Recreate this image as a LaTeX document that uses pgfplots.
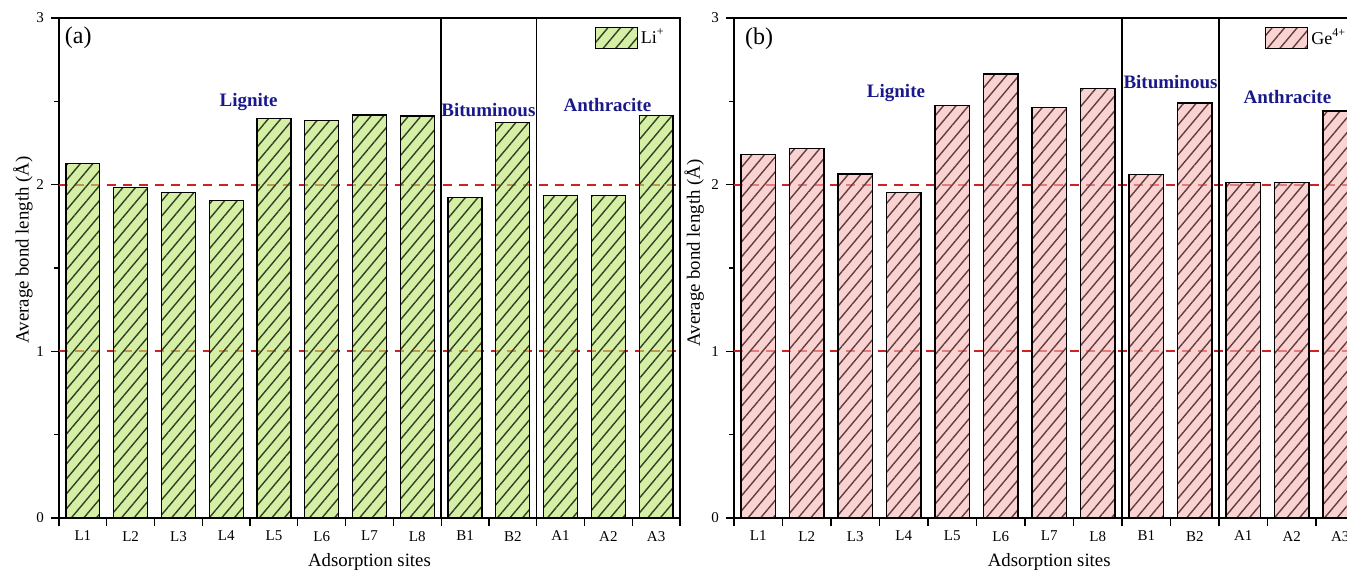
\documentclass[border=0pt]{standalone}
\usepackage{fontspec}
\setmainfont{Liberation Serif}
\usepackage{pgfplots}
\pgfplotsset{compat=1.18}
\usetikzlibrary{patterns.meta}

\definecolor{gfill}{RGB}{185,228,105}
\definecolor{ghatch}{RGB}{50,62,38}
\definecolor{pfill}{RGB}{247,180,180}
\definecolor{phatch}{RGB}{95,62,62}
\definecolor{dred}{RGB}{205,35,35}
\definecolor{navy}{RGB}{25,25,140}

\pgfplotsset{
  panel/.style={
    scale only axis, height=250pt,
    ymin=0, ymax=3, xmin=-0.5, xmax=12.5,
    ytick={0,1,2,3}, minor ytick={0.5,1.5,2.5},
    xtick={-0.5,0.5,...,12.5}, xticklabels={},
    extra x ticks={0,1,2,3,4,5,6,7,8,9,10,11,12},
    extra x tick labels={L1,L2,L3,L4,L5,L6,L7,L8,B1,B2,A1,A2,A3},
    extra x tick style={major tick length=0pt, xticklabel style={yshift=-3pt}},
    tick align=outside, xtick pos=bottom, ytick pos=left,
    major tick length=4pt, minor tick length=2.5pt,
    tick style={black, line width=0.6pt},
    axis line style={line width=0.7pt},
    tick label style={font=\fontsize{7.5}{8}\selectfont},
    /pgf/number format/assume math mode=true,
    label style={font=\fontsize{9.4}{11}\selectfont},
    xlabel={Adsorption sites},
    ylabel={Average bond length (Å)},
    xlabel style={at={(axis description cs:0.5,-0.088)}, anchor=center},
    legend style={draw=none, fill=none, inner sep=0pt, anchor=north west,
      font=\fontsize{9}{10}\selectfont, nodes={inner sep=1.5pt}},
    legend cell align=left,
  },
  mylegend/.style={legend image code/.code={
    \draw[##1, fill opacity=0.6] (0pt,-5.25pt) rectangle (21pt,5.25pt);}},
  ref/.style={dred, dashed, line width=1pt, dash pattern=on 4.5pt off 3.5pt, forget plot, sharp plot},
}

\begin{document}
\begin{tikzpicture}
\useasboundingbox (0,0) rectangle (673.5pt,286.5pt);
\clip (0,0) rectangle (673.5pt,286.5pt);

% ---------- (a) Li+ ----------
\begin{axis}[panel, at={(29.5pt,27.5pt)}, anchor=south west, width=310.5pt,
  ylabel style={at={(axis description cs:-0.058,0.536)}, anchor=center},
  legend style={at={(axis description cs:0.862,0.985)}}]
\addplot[ref] coordinates {(-0.5,2) (12.5,2)};
\addplot[ref] coordinates {(-0.5,1) (12.5,1)};
\addplot[ybar, bar width=0.71, draw=black, line width=0.6pt, fill=gfill, fill opacity=0.6,
  postaction={pattern={Lines[angle=50,distance=4.8pt,line width=0.7pt]}, pattern color=ghatch, fill opacity=1},
  mylegend]
coordinates {(0,2.128) (1,1.982) (2,1.954) (3,1.905) (4,2.398) (5,2.384) (6,2.418)
  (7,2.412) (8,1.924) (9,2.374) (10,1.934) (11,1.934) (12,2.414)};
\addlegendentry{Li\textsuperscript{+}}
\draw[line width=0.7pt] (axis cs:7.5,0) -- (axis cs:7.5,3);
\draw[line width=0.7pt] (axis cs:9.5,0) -- (axis cs:9.5,3);
\node[font=\bfseries\fontsize{9.5}{10}\selectfont, text=navy] at (axis cs:3.47,2.498) {Lignite};
\node[font=\bfseries\fontsize{9.5}{10}\selectfont, text=navy] at (axis cs:8.49,2.448) {Bituminous};
\node[font=\bfseries\fontsize{9.5}{10}\selectfont, text=navy] at (axis cs:10.98,2.478) {Anthracite};
\node[font=\fontsize{12}{13}\selectfont] at (axis description cs:0.031,0.961) {(a)};
\end{axis}

% ---------- (b) Ge4+ ----------
\begin{axis}[panel, at={(367pt,27.5pt)}, anchor=south west, width=315.25pt,
  ylabel style={at={(axis description cs:-0.063,0.53)}, anchor=center},
  legend style={at={(axis description cs:0.842,0.985)}}]
\addplot[ref] coordinates {(-0.5,2) (12.5,2)};
\addplot[ref] coordinates {(-0.5,1) (12.5,1)};
\addplot[ybar, bar width=0.71, draw=black, line width=0.6pt, fill=pfill, fill opacity=0.6,
  postaction={pattern={Lines[angle=50,distance=4.8pt,line width=0.7pt]}, pattern color=phatch, fill opacity=1},
  mylegend]
coordinates {(0,2.18) (1,2.218) (2,2.064) (3,1.952) (4,2.476) (5,2.664) (6,2.462)
  (7,2.576) (8,2.06) (9,2.49) (10,2.012) (11,2.012) (12,2.442)};
\addlegendentry{Ge\textsuperscript{4+}}
\draw[line width=0.7pt] (axis cs:7.5,0) -- (axis cs:7.5,3);
\draw[line width=0.7pt] (axis cs:9.5,0) -- (axis cs:9.5,3);
\node[font=\bfseries\fontsize{9.5}{10}\selectfont, text=navy] at (axis cs:2.84,2.548) {Lignite};
\node[font=\bfseries\fontsize{9.5}{10}\selectfont, text=navy] at (axis cs:8.5,2.618) {Bituminous};
\node[font=\bfseries\fontsize{9.5}{10}\selectfont, text=navy] at (axis cs:10.91,2.528) {Anthracite};
\node[font=\fontsize{12}{13}\selectfont] at (axis description cs:0.04,0.958) {(b)};
\end{axis}
\end{tikzpicture}
\end{document}
